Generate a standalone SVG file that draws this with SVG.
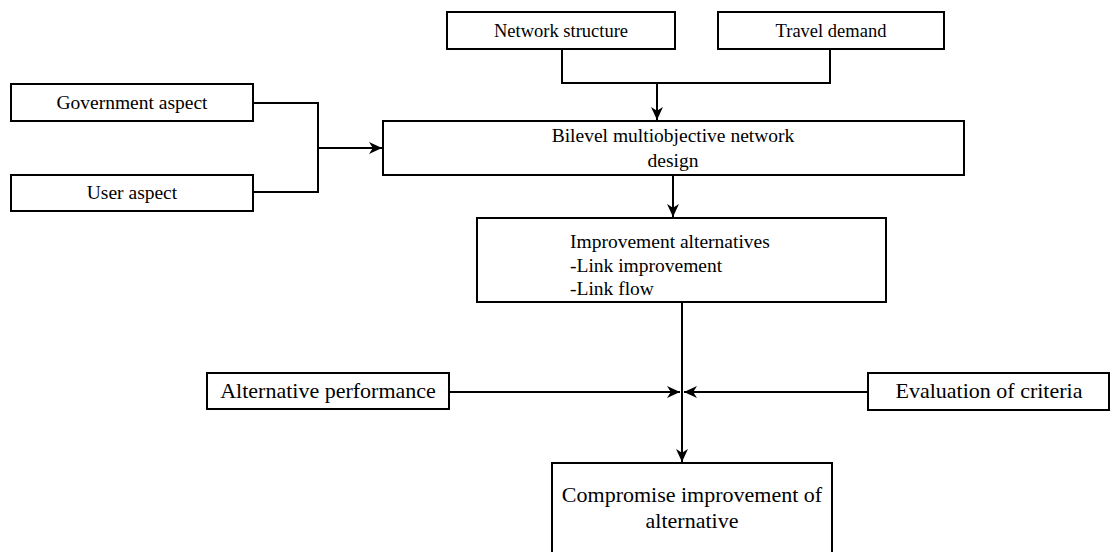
<svg xmlns="http://www.w3.org/2000/svg" width="1111" height="552" viewBox="0 0 1111 552">
<style>
.box{fill:#fff;stroke:#000;stroke-width:2}
.t{font-family:'Liberation Serif','Times New Roman','DejaVu Serif',serif;fill:#000;text-anchor:middle}
.l{text-anchor:start}
.s18{font-size:18.5px}
.s19{font-size:19.5px}
.s22{font-size:22px}
.c{fill:none;stroke:#000;stroke-width:2}
</style>
<defs>
<marker id="arr" viewBox="0 0 12 12" refX="12" refY="6" markerWidth="13" markerHeight="13" markerUnits="userSpaceOnUse" orient="auto">
<path d="M0,0.5 L12,6 L0,11.5 L3.5,6 Z" fill="#000"/>
</marker>
</defs>
<rect width="1111" height="552" fill="#fff"/>
<g id="connectors">
<polyline class="c" points="562,49 562,83 830,83 830,49"/>
<line class="c" x1="657" y1="83" x2="657" y2="120" marker-end="url(#arr)"/>
<polyline class="c" points="253,103 318,103 318,192 253,192"/>
<line class="c" x1="318" y1="148" x2="382" y2="148" marker-end="url(#arr)"/>
<line class="c" x1="673" y1="175" x2="673" y2="217" marker-end="url(#arr)"/>
<line class="c" x1="682" y1="302" x2="682" y2="462" marker-end="url(#arr)"/>
<line class="c" x1="449" y1="392" x2="680" y2="392" marker-end="url(#arr)"/>
<line class="c" x1="868" y1="392" x2="684" y2="392" marker-end="url(#arr)"/>
</g>
<g id="network-structure">
<rect class="box" x="447" y="12" width="228" height="37"/>
<text class="t s18" x="561" y="37">Network structure</text>
</g>
<g id="travel-demand">
<rect class="box" x="718" y="12" width="226" height="37"/>
<text class="t s18" x="831" y="37">Travel demand</text>
</g>
<g id="government-aspect">
<rect class="box" x="11" y="84" width="242" height="37"/>
<text class="t s19" x="132" y="109">Government aspect</text>
</g>
<g id="user-aspect">
<rect class="box" x="11" y="175" width="242" height="36"/>
<text class="t s19" x="132" y="199">User aspect</text>
</g>
<g id="bilevel">
<rect class="box" x="383" y="121" width="581" height="54"/>
<text class="t s19" x="673" y="142">Bilevel multiobjective network</text>
<text class="t s19" x="673" y="167">design</text>
</g>
<g id="improvement">
<rect class="box" x="477" y="218" width="409" height="84"/>
<text class="t l s19" x="570" y="248">Improvement alternatives</text>
<text class="t l s19" x="570" y="272">-Link improvement</text>
<text class="t l s19" x="570" y="295">-Link flow</text>
</g>
<g id="alternative-performance">
<rect class="box" x="207" y="373" width="242" height="36"/>
<text class="t s22" x="328" y="398">Alternative performance</text>
</g>
<g id="evaluation">
<rect class="box" x="868" y="373" width="241" height="37"/>
<text class="t s22" x="989" y="398">Evaluation of criteria</text>
</g>
<g id="compromise">
<rect class="box" x="552" y="463" width="280" height="100"/>
<text class="t s22" x="692" y="502">Compromise improvement of</text>
<text class="t s22" x="692" y="528">alternative</text>
</g>
</svg>
